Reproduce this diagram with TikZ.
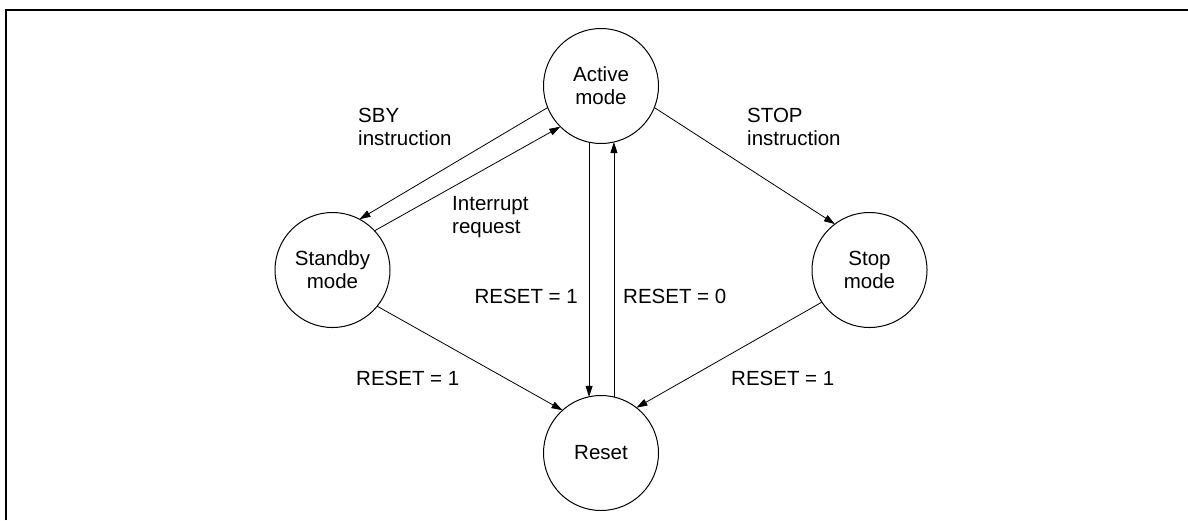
\documentclass[tikz,border=0pt]{standalone}
\usepackage{fontspec}
\setmainfont{Liberation Sans}
\usetikzlibrary{arrows.meta}
\begin{document}
\begin{tikzpicture}[x=1pt,y=-1pt,
  state/.style={circle,draw,line width=1pt,minimum size=115pt,inner sep=0pt,outer sep=0pt,align=center,font=\fontsize{20.5}{23}\selectfont},
  lbl/.style={align=left,inner sep=0pt,font=\fontsize{20.5}{23}\selectfont},
  conn/.style={line width=0.8pt,-{Triangle[length=11pt,width=7pt]}}]
\useasboundingbox (0,0) rectangle (1188,520);
\draw[line width=2pt] (6,520) -- (6,10) -- (1188,10);
\node[state] (A) at (601,86) {Active\\mode};
\node[state] (S) at (332.5,270) {Standby\\mode};
\node[state] (P) at (869.5,270) {Stop\\mode};
\node[state] (R) at (601,453) {Reset};
\draw[conn] (A.202) -- (S.62);
\draw[conn] (S.43) -- (A.225);
\draw[conn] (A.258) -- (R.102);
\draw[conn] (R.77) -- (A.283);
\draw[conn] (A.338) -- (P.127);
\draw[conn] (S.321) -- (R.132);
\draw[conn] (P.214) -- (R.52);
\node[lbl,anchor=west] (l1) at (358,127) {SBY\\instruction};
\node[lbl,anchor=west] (l2) at (747,127) {STOP\\instruction};
\node[lbl,anchor=west] (l3) at (452,217) {Interrupt\\request};
\node[lbl,anchor=east] (l4) at (578,296) {RESET = 1};
\node[lbl,anchor=west] (l5) at (623,296) {RESET = 0};
\node[lbl,anchor=west] (l6) at (356,378) {RESET = 1};
\node[lbl,anchor=west] (l7) at (731,378) {RESET = 1};
\end{tikzpicture}
\end{document}
